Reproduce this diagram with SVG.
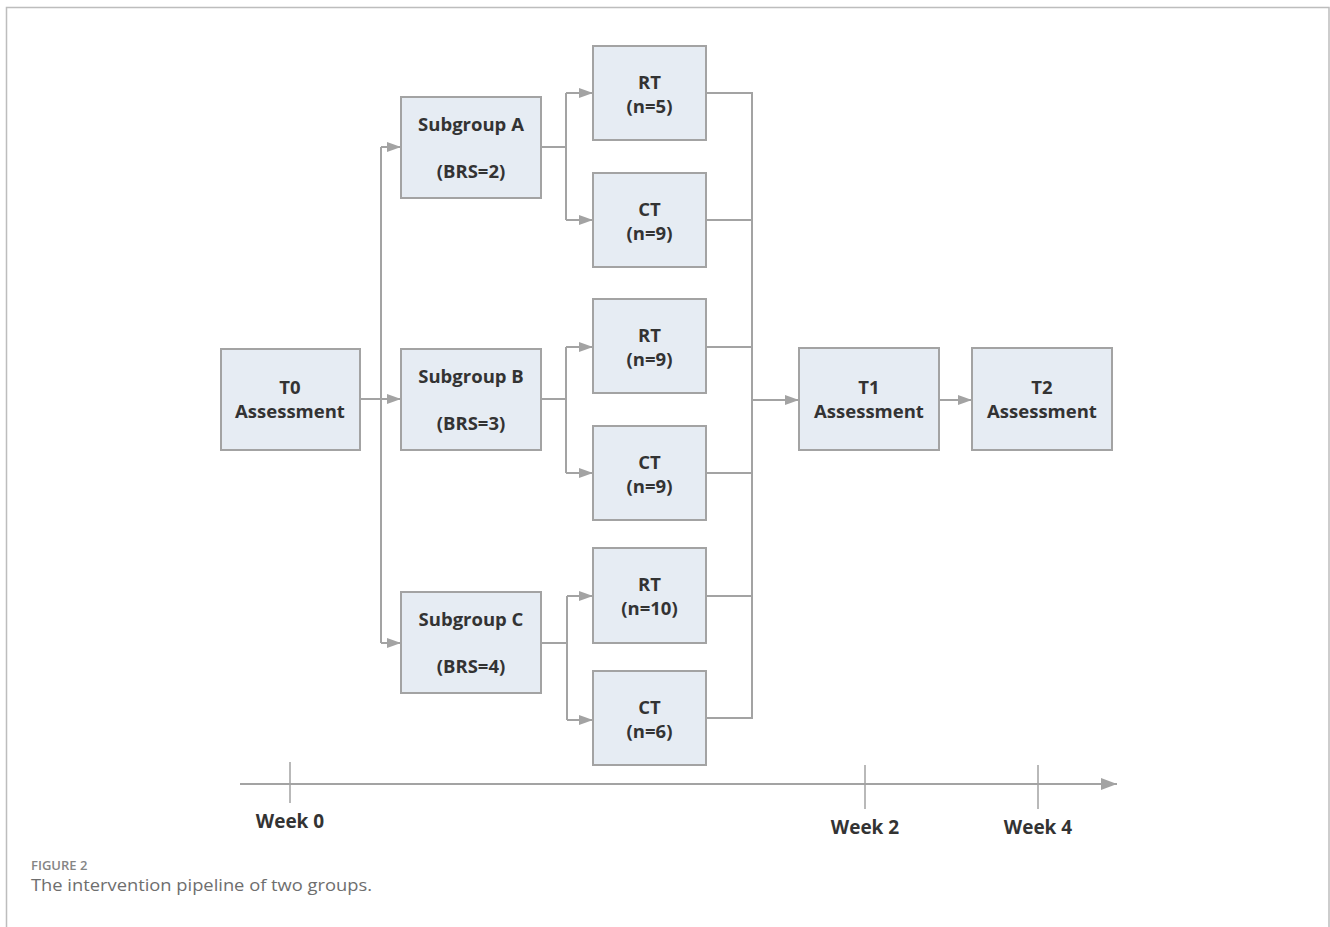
<svg xmlns="http://www.w3.org/2000/svg" width="1330" height="927" viewBox="0 0 1330 927">
<style>
.box{fill:#e6ecf3;stroke:#a3a3a3;stroke-width:2}
.t{font-family:"Open Sans","Noto Sans",sans-serif;font-weight:bold;font-size:18.5px;fill:#333;text-anchor:middle}
.wk{font-family:"Open Sans","Noto Sans",sans-serif;font-weight:bold;font-size:19px;fill:#333;text-anchor:middle}
.c{fill:none;stroke:#a3a3a3;stroke-width:2}
</style>
<defs>
<marker id="ah" markerUnits="userSpaceOnUse" markerWidth="14" markerHeight="10" refX="14" refY="5" orient="auto"><path d="M0,0 L14,5 L0,10 z" fill="#a3a3a3"/></marker>
<marker id="ah2" markerUnits="userSpaceOnUse" markerWidth="16" markerHeight="12" refX="16" refY="6" orient="auto"><path d="M0,0 L16,6 L0,12 z" fill="#a3a3a3"/></marker>
</defs>
<rect width="1330" height="927" fill="#fff"/>
<path d="M6.5,927 V7.5 H1329 V927" fill="none" stroke="#bdbdbd" stroke-width="1.5"/>
<g id="connectors">
<path class="c" d="M360,399 H401" marker-end="url(#ah)"/>
<path class="c" d="M381,147 V643"/>
<path class="c" d="M381,147 H401" marker-end="url(#ah)"/>
<path class="c" d="M381,643 H401" marker-end="url(#ah)"/>
<path class="c" d="M541,147 H566 M566,93 V220"/>
<path class="c" d="M566,93 H593" marker-end="url(#ah)"/>
<path class="c" d="M566,220 H593" marker-end="url(#ah)"/>
<path class="c" d="M541,399 H566 M566,347 V473"/>
<path class="c" d="M566,347 H593" marker-end="url(#ah)"/>
<path class="c" d="M566,473 H593" marker-end="url(#ah)"/>
<path class="c" d="M541,643 H567 M567,596 V720"/>
<path class="c" d="M567,596 H593" marker-end="url(#ah)"/>
<path class="c" d="M567,720 H593" marker-end="url(#ah)"/>
<path class="c" d="M706,93 H752 M706,220 H752 M706,347 H752 M706,473 H752 M706,596 H752 M706,718 H752 M752,92 V719"/>
<path class="c" d="M752,400 H799" marker-end="url(#ah)"/>
<path class="c" d="M939,400 H972" marker-end="url(#ah)"/>
</g>
<g id="timeline">
<path class="c" d="M240,784 H1117" marker-end="url(#ah2)"/>
<path d="M290,762 V803 M865,765 V809 M1038,765 V809" stroke="#a3a3a3" stroke-width="1.5" fill="none"/>
<text class="wk" x="290" y="828">Week 0</text>
<text class="wk" x="865" y="834">Week 2</text>
<text class="wk" x="1038" y="834">Week 4</text>
</g>
<g id="t0"><rect class="box" x="221" y="349" width="139" height="101"/><text class="t" x="290" y="394">T0</text><text class="t" x="290" y="418">Assessment</text></g>
<g id="subA"><rect class="box" x="401" y="97" width="140" height="101"/><text class="t" x="471" y="131">Subgroup A</text><text class="t" x="471" y="178">(BRS=2)</text></g>
<g id="subB"><rect class="box" x="401" y="349" width="140" height="101"/><text class="t" x="471" y="383">Subgroup B</text><text class="t" x="471" y="430">(BRS=3)</text></g>
<g id="subC"><rect class="box" x="401" y="592" width="140" height="101"/><text class="t" x="471" y="626">Subgroup C</text><text class="t" x="471" y="673">(BRS=4)</text></g>
<g id="rtA"><rect class="box" x="593" y="46" width="113" height="94"/><text class="t" x="649.5" y="89">RT</text><text class="t" x="649.5" y="113">(n=5)</text></g>
<g id="ctA"><rect class="box" x="593" y="173" width="113" height="94"/><text class="t" x="649.5" y="216">CT</text><text class="t" x="649.5" y="240">(n=9)</text></g>
<g id="rtB"><rect class="box" x="593" y="299" width="113" height="94"/><text class="t" x="649.5" y="342">RT</text><text class="t" x="649.5" y="366">(n=9)</text></g>
<g id="ctB"><rect class="box" x="593" y="426" width="113" height="94"/><text class="t" x="649.5" y="469">CT</text><text class="t" x="649.5" y="493">(n=9)</text></g>
<g id="rtC"><rect class="box" x="593" y="548" width="113" height="95"/><text class="t" x="649.5" y="591">RT</text><text class="t" x="649.5" y="615">(n=10)</text></g>
<g id="ctC"><rect class="box" x="593" y="671" width="113" height="94"/><text class="t" x="649.5" y="714">CT</text><text class="t" x="649.5" y="738">(n=6)</text></g>
<g id="t1"><rect class="box" x="799" y="348" width="140" height="102"/><text class="t" x="869" y="394">T1</text><text class="t" x="869" y="418">Assessment</text></g>
<g id="t2"><rect class="box" x="972" y="348" width="140" height="102"/><text class="t" x="1042" y="394">T2</text><text class="t" x="1042" y="418">Assessment</text></g>
<g id="caption">
<text x="31" y="870" font-family="Open Sans, sans-serif" font-size="13" font-weight="600" fill="#858585">FIGURE 2</text>
<text x="31" y="891" font-family="Open Sans, sans-serif" font-size="16" fill="#6e6e6e" textLength="341" lengthAdjust="spacingAndGlyphs">The intervention pipeline of two groups.</text>
</g>
</svg>
